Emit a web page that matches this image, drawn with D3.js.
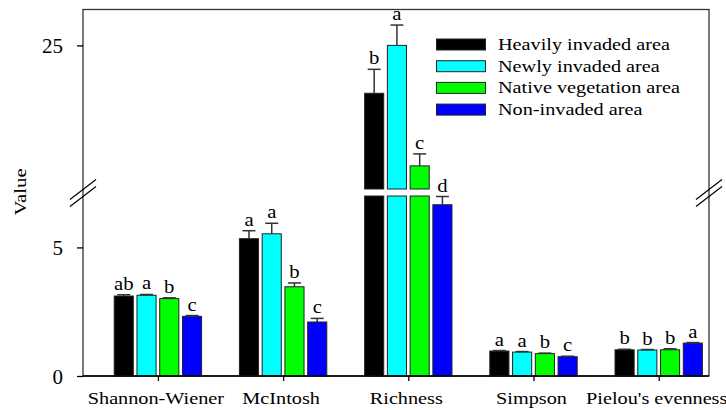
<!DOCTYPE html>
<html>
<head>
<meta charset="utf-8">
<script src="https://cdn.jsdelivr.net/npm/d3@7"></script>
<style>
  html, body { margin: 0; padding: 0; background: #fff; }
  svg { display: block; }
  text { font-family: "Liberation Serif", "Times New Roman", serif; fill: #000; }
</style>
</head>
<body>
<svg id="chart" width="726" height="410"></svg>
<script>
// ---- data ----
const categories = ["Shannon-Wiener", "McIntosh", "Richness", "Simpson", "Pielou's evenness"];
const seriesNames = ["Heavily invaded area", "Newly invaded area", "Native vegetation area", "Non-invaded area"];
const seriesColors = ["#000000", "#00ffff", "#00ff00", "#0000ff"];

const heavilyValues = [3.11, 5.34, 19.0, 0.97, 1.02];
const newlyValues   = [3.14, 5.53, 25.0, 0.93, 1.01];
const nativeValues  = [3.01, 3.47, 9.9, 0.87, 1.02];
const nonValues     = [2.32, 2.10, 6.66, 0.75, 1.28];

const heavilyErr = [0.05, 0.31, 3.0, 0.02, 0.02];
const newlyErr   = [0.03, 0.41, 2.55, 0.02, 0.02];
const nativeErr  = [0.03, 0.15, 1.5, 0.02, 0.04];
const nonErr     = [0.03, 0.14, 0.32, 0.02, 0.02];

const heavilyLetters = ["ab", "a", "b", "a", "b"];
const newlyLetters   = ["a", "a", "a", "a", "b"];
const nativeLetters  = ["b", "b", "c", "b", "b"];
const nonLetters     = ["c", "c", "d", "c", "a"];

const lowTicks = [0, 5];
const highTicks = [25];
const breakValue = 7;

const seriesValues = [heavilyValues, newlyValues, nativeValues, nonValues];
const seriesErr = [heavilyErr, newlyErr, nativeErr, nonErr];
const seriesLetters = [heavilyLetters, newlyLetters, nativeLetters, nonLetters];

// ---- layout ----
const svg = d3.select("#chart");
const mLeft = 83, mRight = 709, mTop = 9.5, mBottom = 376;
const lowTop = 196, highBottom = 189;
const SX = 1.22; // horizontal glyph stretch of original

const x = d3.scalePoint().domain(categories).range([157.9, 658.7]);
const xi = d3.scaleBand().domain(seriesNames).range([-45.5, 45.5]).paddingInner(0.16).paddingOuter(0.08);
const yLow = d3.scaleLinear().domain([0, breakValue]).range([mBottom, lowTop]);
const yHigh = d3.scaleLinear().domain([breakValue, 29.5]).range([highBottom, mTop]);
const yv = v => v <= breakValue ? yLow(v) : yHigh(v);

function stretchedText(g, x0, y0, txt, size, sx, anchor, rot) {
  const grp = g.append("g").attr("transform", `translate(${x0},${y0})` + (rot ? ` rotate(${rot})` : ""));
  grp.append("text").attr("transform", `scale(${sx},1)`)
    .attr("text-anchor", anchor || "middle")
    .style("font-size", size + "px")
    .text(txt);
  return grp;
}

// bars
const rows = [];
categories.forEach((c, i) => {
  seriesNames.forEach((s, j) => {
    rows.push({ cat: c, ser: s, j, v: seriesValues[j][i], e: seriesErr[j][i], l: seriesLetters[j][i] });
  });
});

const barG = svg.append("g");
rows.forEach(d => {
  const bx = x(d.cat) + xi(d.ser);
  const bw = xi.bandwidth();
  if (d.v <= breakValue) {
    barG.append("rect").attr("x", bx).attr("width", bw)
      .attr("y", yLow(d.v)).attr("height", yLow(0) - yLow(d.v))
      .attr("fill", seriesColors[d.j]).attr("stroke", "#222").attr("stroke-width", 1);
  } else {
    barG.append("rect").attr("x", bx).attr("width", bw)
      .attr("y", yLow(breakValue)).attr("height", yLow(0) - yLow(breakValue))
      .attr("fill", seriesColors[d.j]).attr("stroke", "#222").attr("stroke-width", 1);
    barG.append("rect").attr("x", bx).attr("width", bw)
      .attr("y", yHigh(d.v)).attr("height", yHigh(breakValue) - yHigh(d.v))
      .attr("fill", seriesColors[d.j]).attr("stroke", "#222").attr("stroke-width", 1);
  }
  // error bar
  const cx = bx + bw / 2;
  const y1 = yv(d.v), y2 = yv(d.v + d.e);
  barG.append("line").attr("x1", cx).attr("x2", cx).attr("y1", y1).attr("y2", y2)
    .attr("stroke", "#333").attr("stroke-width", 1.5);
  barG.append("line").attr("x1", cx - 6.5).attr("x2", cx + 6.5).attr("y1", y2).attr("y2", y2)
    .attr("stroke", "#333").attr("stroke-width", 1.5);
  // letter
  stretchedText(barG, cx, y2 - 5, d.l, 18, 1.15, "middle");
});

// frame
svg.append("rect").attr("x", mLeft).attr("y", mTop).attr("width", mRight - mLeft).attr("height", mBottom - mTop)
  .attr("fill", "none").attr("stroke", "#333").attr("stroke-width", 1.3);
svg.append("line").attr("x1", mLeft).attr("x2", mRight).attr("y1", mBottom).attr("y2", mBottom)
  .attr("stroke", "#000").attr("stroke-width", 1.5);

// y axes
function styleAxis(g) {
  g.select(".domain").remove();
  g.selectAll(".tick line").attr("stroke", "#000").attr("stroke-width", 1.3);
  g.selectAll(".tick text").style("font-size", "21px").attr("font-family", "Liberation Serif").attr("dy", "0.34em");
}
svg.append("g").attr("transform", `translate(${mLeft},0)`)
  .call(d3.axisLeft(yLow).tickValues(lowTicks).tickSize(6).tickPadding(14).tickFormat(d3.format("d")))
  .call(styleAxis);
svg.append("g").attr("transform", `translate(${mLeft},0)`)
  .call(d3.axisLeft(yHigh).tickValues(highTicks).tickSize(6).tickPadding(14).tickFormat(d3.format("d")))
  .call(styleAxis);

// x axis ticks + labels
const xg = svg.append("g").attr("transform", `translate(0,${mBottom})`)
  .call(d3.axisBottom(x).tickSize(5).tickFormat(""));
xg.select(".domain").remove();
xg.selectAll(".tick line").attr("stroke", "#000").attr("stroke-width", 1.3);
categories.forEach(c => {
  stretchedText(svg, x(c) - 2, 404, c, 16.6, SX, "middle");
});

// axis breaks
const yb = (lowTop + highBottom) / 2 + 0.5;
[mLeft, mRight].forEach(ax => {
  [-3.5, 3.5].forEach(d => {
    svg.append("line").attr("x1", ax - 13).attr("y1", yb + d + 10).attr("x2", ax + 13).attr("y2", yb + d - 10)
      .attr("stroke", "#000").attr("stroke-width", 1.2);
  });
});

// y label
stretchedText(svg, 26, 192, "Value", 17, SX, "middle", -90);

// legend
const leg = svg.append("g");
seriesNames.forEach((s, j) => {
  const ly = 39 + j * 21.7;
  leg.append("rect").attr("x", 436.5).attr("y", ly).attr("width", 49).attr("height", 11)
    .attr("fill", seriesColors[j]).attr("stroke", "#222").attr("stroke-width", 1);
  stretchedText(leg, 498, ly + 11, s, 16.6, SX, "start");
});
</script>
</body>
</html>
